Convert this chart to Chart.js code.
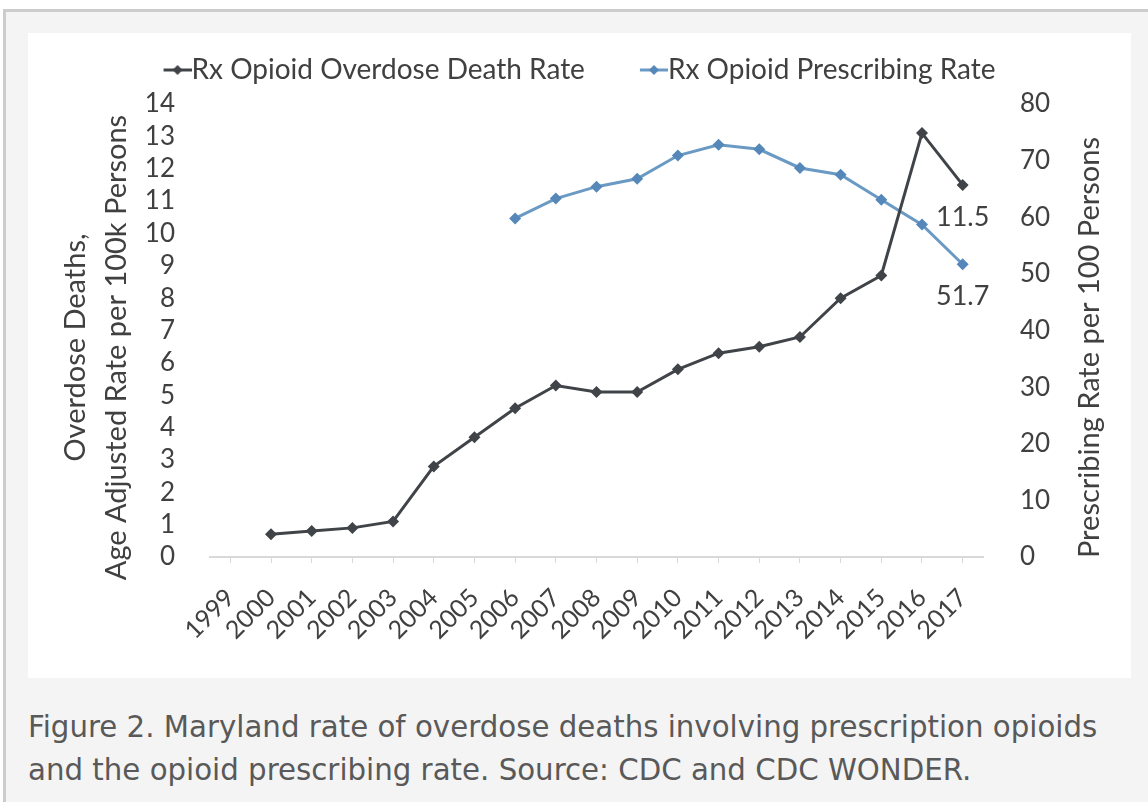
<!DOCTYPE html>
<html>
<head>
<meta charset="utf-8">
<script src="https://cdn.jsdelivr.net/npm/chart.js@4.4.1/dist/chart.umd.min.js"></script>
<style>
    body { margin: 0; background: #fff; }
    #frame {
        position: absolute; left: 3px; top: 9px; right: -10px; bottom: -10px;
        border: 3px solid #cccccc; background: #f4f4f4;
    }
    #box {
        position: absolute; left: 28px; top: 33px; width: 1103px; height: 645px;
        background: #fff;
    }
    #caption {
        position: absolute; left: 28px; top: 706px; margin: 0; width: 1118px;
        font: 29.25px/43px 'DejaVu Sans', sans-serif; color: #595959;
    }
</style>
</head>
<body>
<div id="frame"></div>
<div id="box"><canvas id="lineChart"></canvas></div>
<p id="caption">Figure 2. Maryland rate of overdose deaths involving prescription opioids<br>and the opioid prescribing rate. Source: CDC and CDC WONDER.</p>
<script>
const years = ['1999', '2000', '2001', '2002', '2003', '2004', '2005', '2006', '2007', '2008',
               '2009', '2010', '2011', '2012', '2013', '2014', '2015', '2016', '2017'];

// deaths per 100k, age adjusted
const deathRate = [null, 0.7, 0.8, 0.9, 1.1, 2.8, 3.7, 4.6, 5.3, 5.1,
                   5.1, 5.8, 6.3, 6.5, 6.8, 8.0, 8.7, 13.1, 11.5];

// prescriptions per 100 persons
const prescribingRate = [null, null, null, null, null, null, null, 59.8, 63.3, 65.4,
                         66.8, 70.9, 72.8, 72.0, 68.7, 67.5, 63.1, 58.7, 51.7];

const leftTicks = [0, 14, 1];
const rightTicks = [0, 80, 10];

const colors = {
    death: '#404448',
    prescribing: '#6a9ac4',
    prescribingPoint: '#5588b8',
    text: '#404040',
    axis: '#d9d9d9'
};

const FONT = 'Lato';

// legend swatch: line with a diamond, drawn at the right end of a wider
// transparent canvas so it butts up against the label text
function legendSwatch(lineColor, pointColor) {
    const c = document.createElement('canvas');
    c.width = 87;
    c.height = 12;
    const g = c.getContext('2d');
    const x0 = 59;
    g.strokeStyle = lineColor;
    g.lineWidth = 3;
    g.beginPath();
    g.moveTo(x0, 6);
    g.lineTo(x0 + 28, 6);
    g.stroke();
    g.fillStyle = pointColor;
    g.beginPath();
    g.moveTo(x0 + 14, 1);
    g.lineTo(x0 + 19, 6);
    g.lineTo(x0 + 14, 11);
    g.lineTo(x0 + 9, 6);
    g.closePath();
    g.fill();
    return c;
}

const swatches = [
    legendSwatch(colors.death, colors.death),
    legendSwatch(colors.prescribing, colors.prescribingPoint)
];

// a bit more room between the legend and the plot
const legendGap = {
    id: 'legendGap',
    beforeLayout(chart) {
        const legend = chart.legend;
        if (!legend || legend._gapPatched) return;
        const fit = legend.fit;
        legend.fit = function () {
            fit.call(this);
            this.height += 10;
        };
        legend._gapPatched = true;
    }
};

// value labels under the 2017 points
const endLabels = {
    id: 'endLabels',
    afterDatasetsDraw(chart) {
        const ctx = chart.ctx;
        ctx.save();
        ctx.font = '27px ' + FONT;
        ctx.fillStyle = colors.text;
        ctx.textAlign = 'center';
        ctx.textBaseline = 'middle';
        chart.data.datasets.forEach((ds, i) => {
            const last = ds.data.length - 1;
            const pt = chart.getDatasetMeta(i).data[last];
            ctx.fillText(ds.data[last].toFixed(1), pt.x, pt.y + 32);
        });
        ctx.restore();
    }
};

// rotated axis titles, sitting a bit below the plot centre
const axisTitles = {
    id: 'axisTitles',
    afterDraw(chart) {
        const ctx = chart.ctx;
        const area = chart.chartArea;
        const midY = (area.top + area.bottom) / 2 + 17;
        ctx.save();
        ctx.font = '29px ' + FONT;
        ctx.fillStyle = colors.text;
        ctx.textAlign = 'center';
        ctx.textBaseline = 'middle';
        const draw = (text, x) => {
            ctx.save();
            ctx.translate(x, midY);
            ctx.rotate(-Math.PI / 2);
            ctx.fillText(text, 0, 0);
            ctx.restore();
        };
        draw('Overdose Deaths,', 48);
        draw('Age Adjusted Rate per 100k Persons', 89);
        draw('Prescribing Rate per 100 Persons', 1062);
        ctx.restore();
    }
};

const ctx = document.getElementById('lineChart').getContext('2d');
const chart = new Chart(ctx, {
    type: 'line',
    data: {
        labels: years,
        datasets: [{
            label: 'Rx Opioid Overdose Death Rate',
            data: deathRate,
            yAxisID: 'y',
            borderColor: colors.death,
            backgroundColor: colors.death,
            borderWidth: 3,
            pointStyle: 'rectRot',
            pointRadius: 6,
            pointBackgroundColor: colors.death,
            pointBorderWidth: 0
        }, {
            label: 'Rx Opioid Prescribing Rate',
            data: prescribingRate,
            yAxisID: 'y1',
            borderColor: colors.prescribing,
            backgroundColor: colors.prescribing,
            borderWidth: 3,
            pointStyle: 'rectRot',
            pointRadius: 6,
            pointBackgroundColor: colors.prescribingPoint,
            pointBorderWidth: 0
        }]
    },
    options: {
        responsive: true,
        maintainAspectRatio: false,
        animation: false,
        layout: { padding: { top: 13, right: 45 } },
        plugins: {
            tooltip: { enabled: false },
            legend: {
                position: 'top',
                labels: {
                    color: colors.text,
                    font: { family: FONT, size: 28 },
                    usePointStyle: true,
                    pointStyleWidth: 59,
                    padding: 10,
                    generateLabels(chart) {
                        const items = Chart.defaults.plugins.legend.labels.generateLabels(chart);
                        items.forEach((item, i) => { item.pointStyle = swatches[i]; });
                        return items;
                    }
                }
            }
        },
        scales: {
            x: {
                offset: true,
                grid: {
                    display: true,
                    drawOnChartArea: false,
                    drawTicks: true,
                    tickLength: 6,
                    color: colors.axis,
                    lineWidth: 1
                },
                border: { color: colors.axis, width: 2 },
                ticks: {
                    color: colors.text,
                    font: { family: FONT, size: 25 },
                    maxRotation: 45,
                    minRotation: 45,
                    autoSkip: false,
                    padding: 20
                },
                afterFit(scale) { scale.height = 121; }
            },
            y: {
                position: 'left',
                min: leftTicks[0],
                max: leftTicks[1],
                grid: { display: false },
                border: { display: false },
                ticks: {
                    stepSize: leftTicks[2],
                    autoSkip: false,
                    color: colors.text,
                    font: { family: FONT, size: 26 },
                    padding: 27
                },
                afterFit(scale) { scale.width = 182; }
            },
            y1: {
                position: 'right',
                min: rightTicks[0],
                max: rightTicks[1],
                grid: { display: false },
                border: { display: false },
                ticks: {
                    stepSize: rightTicks[2],
                    autoSkip: false,
                    color: colors.text,
                    font: { family: FONT, size: 26 },
                    padding: 29
                },
                afterFit(scale) { scale.width = 103; }
            }
        }
    },
    plugins: [legendGap, endLabels, axisTitles]
});
</script>
</body>
</html>
